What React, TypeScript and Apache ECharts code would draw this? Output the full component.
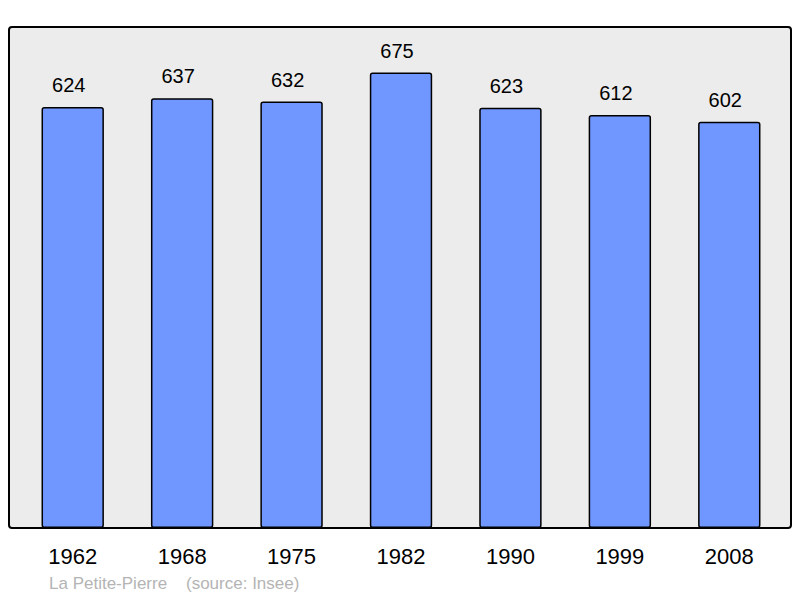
import React, { useEffect, useRef } from "react";
import * as echarts from "echarts";

const years = ["1962", "1968", "1975", "1982", "1990", "1999", "2008"];
const population = [624, 637, 632, 675, 623, 612, 602];
const footerText = "La Petite-Pierre    (source: Insee)";

export default function App() {
  const ref = useRef<HTMLDivElement>(null);
  useEffect(() => {
    if (!ref.current) return;
    const chart = echarts.init(ref.current, null, { renderer: "svg" });
    chart.setOption({
      animation: false,
      backgroundColor: "#ffffff",
      textStyle: { fontFamily: "Liberation Sans" },
      grid: { left: 18, right: 16, top: 22, bottom: 70 },
      xAxis: {
        type: "category",
        data: years,
        axisLine: { show: false },
        axisTick: { show: false },
        axisLabel: { fontSize: 22, color: "#000", margin: 17, fontFamily: "Liberation Sans" },
      },
      yAxis: {
        type: "value",
        min: 0,
        max: 750,
        show: false,
        splitLine: { show: false },
      },
      graphic: [
        {
          type: "rect",
          z: -10,
          shape: { x: 9, y: 27, width: 782, height: 501, r: 3 },
          style: { fill: "#ececec", stroke: "#000", lineWidth: 2 },
        },
        {
          type: "text",
          left: 49,
          top: 575,
          style: { text: footerText, fontSize: 17, fill: "#b4b4b4", fontFamily: "Liberation Sans" },
        },
      ],
      series: [
        {
          type: "bar",
          data: population,
          barWidth: "57%",
          itemStyle: { color: "#7097ff", borderColor: "#000", borderWidth: 1.5, borderRadius: 2 },
          label: {
            show: true,
            position: "top",
            distance: 12,
            offset: [-4, 0],
            fontSize: 20,
            color: "#000",
            fontFamily: "Liberation Sans",
          },
        },
      ],
    });
    return () => chart.dispose();
  }, []);
  return <div ref={ref} style={{ width: 800, height: 598, position: "absolute", left: 0, top: 0 }} />;
}
